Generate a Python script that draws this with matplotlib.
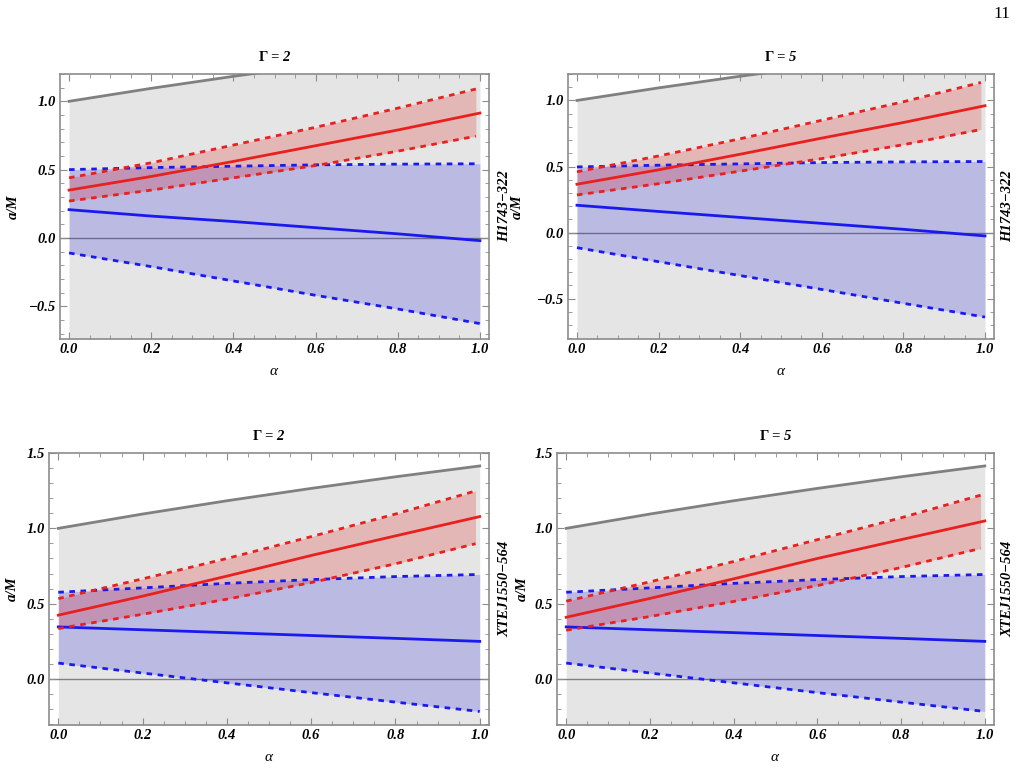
import matplotlib
matplotlib.use("Agg")
import matplotlib.pyplot as plt
from matplotlib.ticker import MultipleLocator

plt.rcParams["font.family"] = ["Liberation Serif", "DejaVu Serif"]
plt.rcParams["mathtext.fontset"] = "custom"
plt.rcParams["mathtext.rm"] = "Liberation Serif"
plt.rcParams["mathtext.it"] = "Liberation Serif:italic"
plt.rcParams["mathtext.bf"] = "Liberation Serif:bold"

# ── data ────────────────────────────────────────────────
alpha = [0.0, 0.2, 0.4, 0.6, 0.8, 1.0]
alpha_red = [0.0, 0.2, 0.4, 0.6, 0.8, 0.99]

# extremal bound (grey curve), same in every panel
bound = [1.0, 1.095, 1.183, 1.265, 1.342, 1.414]

# H1743-322, Gamma = 2
h_g2_red = [0.35, 0.45, 0.56, 0.675, 0.79, 0.914]
h_g2_red_hi = [0.44, 0.55, 0.68, 0.81, 0.95, 1.09]
h_g2_red_lo = [0.27, 0.35, 0.44, 0.53, 0.635, 0.745]
h_g2_blue = [0.207, 0.16, 0.12, 0.075, 0.03, -0.02]
h_g2_blue_hi = [0.50, 0.515, 0.525, 0.535, 0.54, 0.543]
h_g2_blue_lo = [-0.11, -0.21, -0.315, -0.42, -0.52, -0.627]

# H1743-322, Gamma = 5
h_g5_red = [0.366, 0.475, 0.593, 0.715, 0.833, 0.96]
h_g5_red_hi = [0.46, 0.58, 0.71, 0.85, 0.99, 1.136]
h_g5_red_lo = [0.285, 0.37, 0.465, 0.56, 0.665, 0.78]
h_g5_blue = [0.207, 0.16, 0.115, 0.07, 0.025, -0.025]
h_g5_blue_hi = [0.497, 0.51, 0.52, 0.53, 0.535, 0.538]
h_g5_blue_lo = [-0.114, -0.22, -0.325, -0.43, -0.535, -0.639]

# XTEJ1550-564, Gamma = 2
x_g2_red = [0.424, 0.55, 0.683, 0.82, 0.95, 1.078]
x_g2_red_hi = [0.534, 0.665, 0.80, 0.945, 1.095, 1.248]
x_g2_red_lo = [0.335, 0.43, 0.53, 0.64, 0.765, 0.898]
x_g2_blue = [0.346, 0.327, 0.308, 0.289, 0.27, 0.25]
x_g2_blue_hi = [0.576, 0.605, 0.635, 0.66, 0.68, 0.694]
x_g2_blue_lo = [0.106, 0.04, -0.025, -0.09, -0.153, -0.215]

# XTEJ1550-564, Gamma = 5
x_g5_red = [0.41, 0.535, 0.665, 0.80, 0.925, 1.049]
x_g5_red_hi = [0.517, 0.645, 0.78, 0.925, 1.07, 1.22]
x_g5_red_lo = [0.324, 0.415, 0.515, 0.62, 0.74, 0.867]
x_g5_blue = [0.346, 0.327, 0.308, 0.289, 0.27, 0.25]
x_g5_blue_hi = [0.576, 0.605, 0.635, 0.66, 0.68, 0.694]
x_g5_blue_lo = [0.106, 0.04, -0.025, -0.09, -0.153, -0.215]

panels = [
    # rect, Gamma, source, ylim, series, a/M x, source x
    ([0.0585, 0.5597, 0.4181, 0.3442], "2", "H1743\u2212322", (-0.74, 1.2),
     (h_g2_red, h_g2_red_hi, h_g2_red_lo, h_g2_blue, h_g2_blue_hi, h_g2_blue_lo),
     -0.11, 1.037),
    ([0.5536, 0.5597, 0.4152, 0.3442], "5", "H1743\u2212322", (-0.805, 1.2),
     (h_g5_red, h_g5_red_hi, h_g5_red_lo, h_g5_blue, h_g5_blue_hi, h_g5_blue_lo),
     -0.12, 1.033),
    ([0.0478, 0.0584, 0.4288, 0.3533], "2", "XTEJ1550\u2212564", (-0.305, 1.5),
     (x_g2_red, x_g2_red_hi, x_g2_red_lo, x_g2_blue, x_g2_blue_hi, x_g2_blue_lo),
     -0.084, 1.036),
    ([0.5429, 0.0584, 0.4259, 0.3533], "5", "XTEJ1550\u2212564", (-0.305, 1.5),
     (x_g5_red, x_g5_red_hi, x_g5_red_lo, x_g5_blue, x_g5_blue_hi, x_g5_blue_lo),
     -0.08, 1.032),
]

RED = "#e8201e"
BLUE = "#1a1aee"
GREY = "#808080"
FRAME = "#8c8c8c"
LW = 2.0
DASH = (2.0, 2.0)

fig = plt.figure(figsize=(10.26, 7.70), dpi=100)

for rect, gam, src, ylim, series, ylab_x, src_x in panels:
    red, red_hi, red_lo, blue, blue_hi, blue_lo = series
    ax = fig.add_axes(rect)
    ax.set_xlim(-0.022, 1.022)
    ax.set_ylim(*ylim)

    # grey allowed region under the bound
    ax.fill_between(alpha, ylim[0], bound, color="#e5e5e5", lw=0, zorder=0)
    ax.axhline(0, color=GREY, lw=1.0, zorder=1)

    # blue band
    ax.fill_between(alpha, blue_lo, blue_hi, color="#0e0edb", alpha=0.2, lw=0, zorder=1)
    # red band
    ax.fill_between(alpha_red, red_lo, red_hi, color="#e00000", alpha=0.2, lw=0, zorder=2)

    ax.plot(alpha, bound, color=GREY, lw=LW, zorder=3)
    ax.plot(alpha, blue_hi, color=BLUE, lw=LW, dashes=DASH, zorder=3)
    ax.plot(alpha, blue, color=BLUE, lw=LW, zorder=3)
    ax.plot(alpha, blue_lo, color=BLUE, lw=LW, dashes=DASH, zorder=3)
    ax.plot(alpha_red, red_hi, color=RED, lw=LW, dashes=DASH, zorder=4)
    ax.plot(alpha, red, color=RED, lw=LW, zorder=4)
    ax.plot(alpha_red, red_lo, color=RED, lw=LW, dashes=DASH, zorder=4)

    # ticks, Mathematica style
    ax.xaxis.set_major_locator(MultipleLocator(0.2))
    ax.xaxis.set_minor_locator(MultipleLocator(0.05))
    ax.yaxis.set_major_locator(MultipleLocator(0.5))
    ax.yaxis.set_minor_locator(MultipleLocator(0.1))
    ax.tick_params(which="both", direction="in", top=True, right=True,
                   color=FRAME, labelsize=10.5, pad=3)
    ax.tick_params(which="major", length=5, width=0.8)
    ax.tick_params(which="minor", length=3, width=0.6)
    ax.set_xticklabels([f"{v:.1f}" for v in ax.get_xticks()])
    ax.set_yticklabels([f"{v:.1f}".replace("-", "\u2212") for v in ax.get_yticks()])
    for lab in ax.get_xticklabels() + ax.get_yticklabels():
        lab.set_fontweight("bold")
        lab.set_fontstyle("italic")
    for sp in ax.spines.values():
        sp.set_color(FRAME)
        sp.set_linewidth(1.2)

    ax.set_title(r"$\mathbf{\Gamma}$" + f" = {gam}", fontsize=10.5,
                 fontweight="bold", fontstyle="italic", pad=9)
    ax.set_xlabel(r"$\it{\alpha}$", fontsize=11, labelpad=6)
    ax.text(ylab_x, 0.5, "a/M", transform=ax.transAxes, rotation=90,
            ha="center", va="center", fontsize=10.5, fontweight="bold",
            fontstyle="italic")
    ax.text(src_x, 0.5, src, transform=ax.transAxes, rotation=90,
            ha="center", va="center", fontsize=10.5, fontweight="bold",
            fontstyle="italic")

# page number
fig.text(0.985, 0.982, "11", ha="right", va="center", fontsize=12.5)

fig.savefig("out.png", dpi=100)
